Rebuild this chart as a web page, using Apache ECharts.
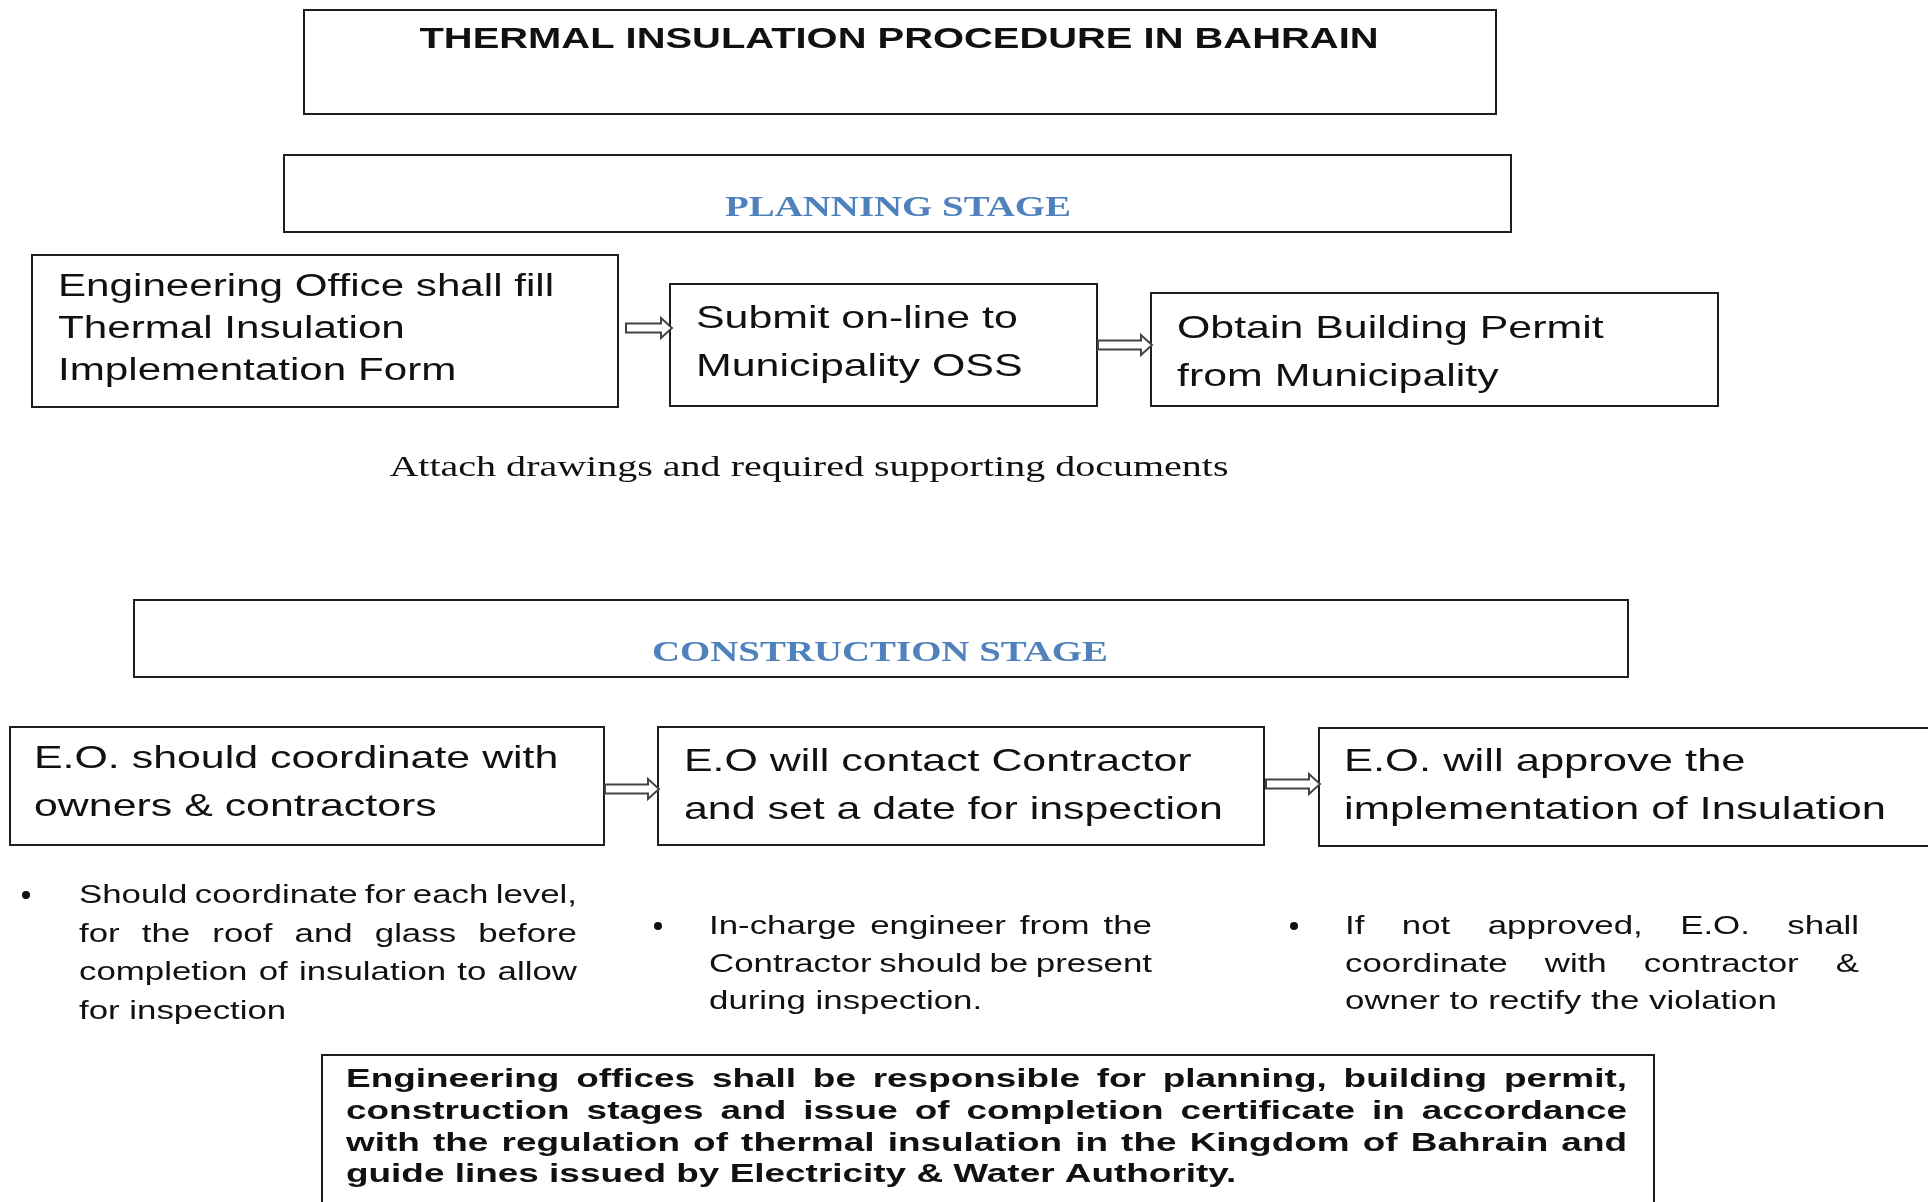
<!DOCTYPE html>
<html lang="en">
<head>
    <meta charset="UTF-8">
    <title>Thermal Insulation Procedure in Bahrain</title>
    <style>
        html,body{
            width: 100%;
            height: 100%;
            margin: 0;
            padding: 0;
            background: #fff;
        }
    </style>
</head>
<body>
<div id="main" style="width: 1928px;height:1202px;"></div>

<script src="https://cdn.jsdelivr.net/npm/echarts@6/dist/echarts.min.js"></script>
<script>
    // ---- texts ----
    var titleText = 'THERMAL INSULATION PROCEDURE IN BAHRAIN';
    var stageNames = ['PLANNING STAGE', 'CONSTRUCTION STAGE'];
    var planningSteps = [
        ['Engineering Office shall fill', 'Thermal Insulation', 'Implementation Form'],
        ['Submit on-line to', 'Municipality OSS'],
        ['Obtain Building Permit', 'from Municipality']
    ];
    var attachNote = 'Attach drawings and required supporting documents';
    var constructionSteps = [
        ['E.O. should coordinate with', 'owners & contractors'],
        ['E.O will contact Contractor', 'and set a date for inspection'],
        ['E.O. will approve the', 'implementation of Insulation']
    ];
    var constructionNotes = [
        ['Should coordinate for each level,', 'for the roof and glass before', 'completion of insulation to allow', 'for inspection'],
        ['In-charge engineer from the', 'Contractor should be present', 'during inspection.'],
        ['If not approved, E.O. shall', 'coordinate with contractor &', 'owner to rectify the violation']
    ];
    var footerLines = [
        'Engineering offices shall be responsible for planning, building permit,',
        'construction stages and issue of completion certificate in accordance',
        'with the regulation of thermal insulation in the Kingdom of Bahrain and',
        'guide lines issued by Electricity & Water Authority.'
    ];

    // ---- layout (pixels) ----
    var SX = 1.34; // the source picture is stretched sideways
    var SANS = '"Liberation Sans", Arial, sans-serif';
    var SERIF = '"Liberation Serif", "Times New Roman", serif';
    var planBoxes = [
        {x: 32, y: 255, w: 586, h: 152, tx: 58, ty: 287, lh: 42, size: 31, sx: 1.36},
        {x: 670, y: 284, w: 427, h: 122, tx: 696, ty: 319, lh: 48, size: 32, sx: 1.34},
        {x: 1151, y: 293, w: 567, h: 113, tx: 1177, ty: 329, lh: 48, size: 32, sx: 1.34}
    ];
    var consBoxes = [
        {x: 10, y: 727, w: 594, h: 118, tx: 34, ty: 759, lh: 48, size: 32, sx: 1.34},
        {x: 658, y: 727, w: 606, h: 118, tx: 684, ty: 762, lh: 48, size: 32, sx: 1.34},
        {x: 1319, y: 728, w: 640, h: 118, tx: 1344, ty: 762, lh: 48, size: 32, sx: 1.36}
    ];
    var arrows = [[626, 672, 328], [1098, 1152, 345], [605, 659, 789], [1266, 1320, 784]];
    var notes = [
        {dot: 26, dy: 895, x: 79, right: 577, y: 896, lh: 38.5, justify: 3},
        {dot: 658, dy: 926, x: 709, right: 1152, y: 927, lh: 37.5, justify: 2},
        {dot: 1294, dy: 926, x: 1345, right: 1859, y: 927, lh: 37.5, justify: 2}
    ];

    var ctx = document.createElement('canvas').getContext('2d');
    function measure(str, font) {
        ctx.font = font;
        return ctx.measureText(str).width;
    }

    var els = [];
    function rect(x, y, w, h, lw) {
        els.push({
            type: 'rect', z: 1,
            shape: {x: x, y: y, width: w, height: h},
            style: {fill: '#fff', stroke: '#1e1e1e', lineWidth: lw || 2}
        });
    }
    function text(x, y, str, font, color, align, sx) {
        els.push({
            type: 'text', z: 5, x: x, y: y, scaleX: sx || SX,
            style: {
                text: str, font: font, fill: color || '#111',
                align: align || 'left', verticalAlign: 'middle',
                textAlign: align || 'left', textVerticalAlign: 'middle'
            }
        });
    }
    // justified line: spread words over [x, right]
    function justify(x, right, y, str, font, color, sx) {
        sx = sx || SX;
        var words = str.split(' ');
        var widths = words.map(function (wd) { return measure(wd, font) * sx; });
        var total = widths.reduce(function (a, b) { return a + b; }, 0);
        var gap = (right - x - total) / (words.length - 1);
        var cx = x;
        words.forEach(function (wd, i) {
            text(cx, y, wd, font, color, 'left', sx);
            cx += widths[i] + gap;
        });
    }
    function arrow(x0, x1, y) {
        var hl = 11, sh = 4.5, hh = 10;
        els.push({
            type: 'polygon', z: 3,
            shape: {points: [[x0, y - sh], [x1 - hl, y - sh], [x1 - hl, y - hh], [x1, y],
                [x1 - hl, y + hh], [x1 - hl, y + sh], [x0, y + sh]]},
            style: {fill: '#fff', stroke: '#444', lineWidth: 2}
        });
    }

    // title
    rect(304, 10, 1192, 104);
    text(899, 40, titleText, 'bold 30px ' + SANS, '#111', 'center', 1.33);

    // planning stage
    rect(284, 155, 1227, 77);
    text(898, 209, stageNames[0], 'bold 29px ' + SERIF, '#4F81BD', 'center');
    planningSteps.forEach(function (lines, i) {
        var b = planBoxes[i];
        rect(b.x, b.y, b.w, b.h);
        lines.forEach(function (s, j) {
            text(b.tx, b.ty + j * b.lh, s, b.size + 'px ' + SANS, '#111', 'left', b.sx);
        });
    });
    text(809, 468, attachNote, '29px ' + SERIF, '#111', 'center', 1.38);

    // construction stage
    rect(134, 600, 1494, 77);
    text(880, 654, stageNames[1], 'bold 29px ' + SERIF, '#4F81BD', 'center');
    constructionSteps.forEach(function (lines, i) {
        var b = consBoxes[i];
        rect(b.x, b.y, b.w, b.h);
        lines.forEach(function (s, j) {
            text(b.tx, b.ty + j * b.lh, s, b.size + 'px ' + SANS, '#111', 'left', b.sx);
        });
    });
    arrows.forEach(function (a) { arrow(a[0], a[1], a[2]); });

    constructionNotes.forEach(function (lines, i) {
        var n = notes[i];
        els.push({type: 'circle', z: 5, shape: {cx: n.dot, cy: n.dy, r: 4}, style: {fill: '#111'}});
        lines.forEach(function (s, j) {
            var y = n.y + j * n.lh;
            if (j < n.justify) justify(n.x, n.right, y, s, '26px ' + SANS);
            else text(n.x, y, s, '26px ' + SANS);
        });
    });

    // footer
    rect(322, 1055, 1332, 170);
    footerLines.forEach(function (s, j) {
        var y = 1080 + j * 31.7;
        if (j < 3) justify(346, 1627, y, s, 'bold 26px ' + SANS, '#111', 1.42);
        else text(346, y, s, 'bold 26px ' + SANS, '#111', 'left', 1.42);
    });

    var myChart = echarts.init(document.getElementById('main'));
    myChart.setOption({
        backgroundColor: '#fff',
        animation: false,
        graphic: {elements: els}
    });
</script>
</body>
</html>
